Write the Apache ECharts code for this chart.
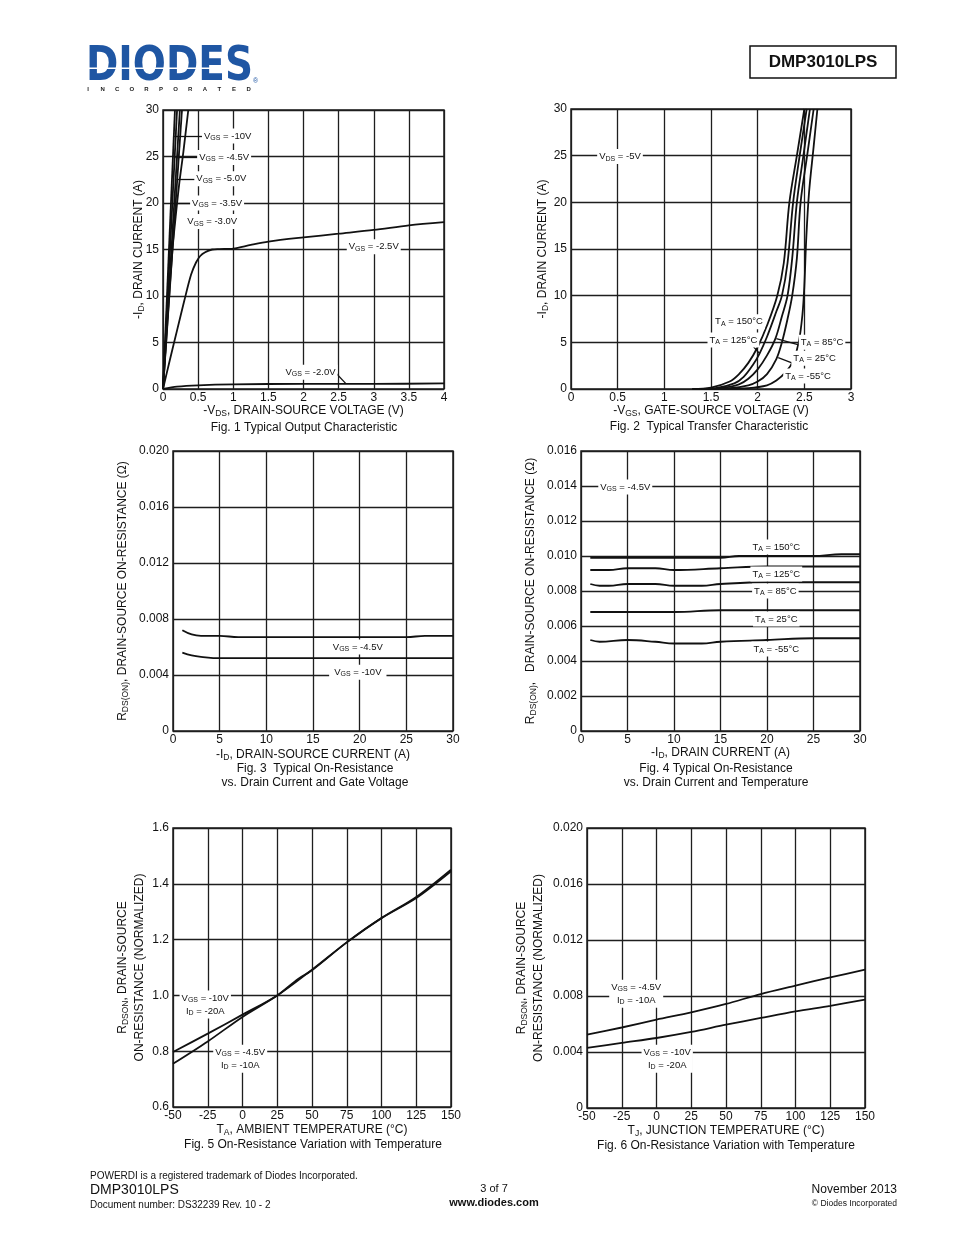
<!DOCTYPE html>
<html><head><meta charset="utf-8">
<script src="https://cdn.jsdelivr.net/npm/echarts@6/dist/echarts.min.js"></script>
<style>html,body{margin:0;padding:0;background:#fff}#c{width:954px;height:1235px}</style>
</head><body><div id="c"></div><script>
// ---------- DATA ----------
// Fig 1: Typical Output Characteristic  [-VDS (V), -ID (A)]
const f1_10V = [[0,0],[0.17,30]];
const f1_45V = [[0,0],[0.2,30]];
const f1_50V = [[0,0],[0.24,30]];
const f1_35V = [[0,0],[0.27,30]];
const f1_30V = [[0,0],[0.07,8],[0.135,15],[0.18,18.5],[0.23,22],[0.29,25.5],[0.36,30]];
const f1_25V = [[0,0],[0.1,3.2],[0.2,6.3],[0.3,9.4],[0.4,12.3],[0.47,13.6],[0.53,14.3],[0.6,14.7],[0.7,15.0],[0.8,15.05],[1.0,15.1],[1.25,15.5],[1.5,15.85],[2,16.3],[2.5,16.7],[3,17.1],[3.5,17.6],[4,17.95]];
const f1_20V = [[0,0],[0.2,0.25],[0.5,0.4],[1,0.5],[2,0.55],[3,0.55],[4,0.6]];
// Fig 2: Typical Transfer Characteristic  [-VGS (V), -ID (A)]
const f2_150 = [[1.3,0],[1.5,0.15],[1.7,0.8],[1.8,1.6],[1.9,2.8],[2.0,4.5],[2.1,6.8],[2.21,10],[2.28,13.5],[2.34,20],[2.42,25],[2.5,30]];
const f2_125 = [[1.3,0],[1.55,0.1],[1.75,0.6],[1.85,1.3],[1.95,2.6],[2.02,3.8],[2.1,5.6],[2.2,8.3],[2.26,10],[2.32,13.5],[2.38,20],[2.45,25],[2.525,30]];
const f2_85 = [[1.35,0],[1.6,0.1],[1.8,0.5],[1.9,1.1],[2.0,2.1],[2.1,3.6],[2.19,5.4],[2.26,7.8],[2.32,10],[2.37,14],[2.42,20],[2.49,25],[2.56,30]];
const f2_25 = [[1.4,0],[1.7,0.1],[1.9,0.4],[2.0,0.8],[2.1,1.6],[2.2,3.2],[2.26,5],[2.32,7.5],[2.37,10],[2.42,14],[2.46,20],[2.53,25],[2.6,30]];
const f2_m55 = [[1.6,0],[1.9,0.1],[2.1,0.4],[2.2,0.9],[2.3,1.8],[2.38,3],[2.44,5],[2.48,8],[2.5,11],[2.52,16],[2.55,21],[2.6,26],[2.64,30]];
// Fig 3: On-Resistance vs Drain Current and Gate Voltage [-ID (A), RDS(ON) (ohm)]
const f3_45V = [[1,0.0072],[2,0.0069],[3,0.0068],[5,0.0068],[7,0.0067],[10,0.0067],[15,0.0067],[20,0.0067],[25,0.0067],[27,0.0068],[30,0.0068]];
const f3_10V = [[1,0.0056],[2,0.0054],[3,0.0053],[5,0.0052],[7,0.0052],[10,0.0052],[20,0.0052],[30,0.0052]];
// Fig 4: On-Resistance vs Drain Current and Temperature
const f4_150 = [[1,0.0099],[5,0.0099],[10,0.0099],[15,0.0099],[17,0.0100],[20,0.0100],[25,0.0100],[28,0.0101],[30,0.0101]];
const f4_125 = [[1,0.0092],[3,0.0092],[5,0.0093],[8,0.0093],[10,0.0092],[15,0.0093],[20,0.0094],[25,0.0094],[30,0.0094]];
const f4_85 = [[1,0.0084],[2,0.0083],[3,0.0083],[5,0.0084],[8,0.0084],[10,0.0083],[13,0.0083],[15,0.0084],[20,0.0085],[25,0.0085],[30,0.0085]];
const f4_25 = [[1,0.0068],[10,0.0068],[15,0.0069],[20,0.0069],[30,0.0069]];
const f4_m55 = [[1,0.0052],[2,0.0051],[5,0.0052],[8,0.0051],[10,0.0050],[13,0.0050],[15,0.0051],[20,0.0052],[25,0.0053],[30,0.0053]];
// Fig 5: normalized RDSON vs ambient temperature
const f5_10V = [[-50,0.797],[-25,0.863],[0,0.931],[25,1.0],[50,1.092],[75,1.19],[100,1.277],[125,1.353],[150,1.451]];
const f5_45V = [[-50,0.755],[-25,0.835],[0,0.923],[25,1.0],[40,1.059],[50,1.09],[75,1.19],[100,1.277],[125,1.349],[150,1.445]];
// Fig 6: RDSON vs junction temperature
const f6_45V = [[-50,0.00524],[-25,0.00575],[0,0.00631],[25,0.00683],[50,0.00743],[75,0.00814],[100,0.00874],[125,0.00933],[150,0.00988]];
const f6_10V = [[-50,0.00429],[-25,0.00465],[0,0.0050],[25,0.00543],[50,0.00595],[75,0.00643],[100,0.0069],[125,0.0073],[150,0.00774]];

// ---------- STYLE ----------
const FF = '"Liberation Sans", Arial, Helvetica, sans-serif';
const INK = '#111';
const GRIDC = '#1e1e1e';
const subRich = (fs, pad) => ({ s: { fontSize: fs, fontFamily: FF, color: INK, padding: [pad, 0, 0, 0] } });

function grid(l, t, w, h) {
  return { left: l, top: t, width: w, height: h, show: true, borderColor: GRIDC, borderWidth: 1.5, containLabel: false };
}
function axis(gi, min, max, interval, name, gap, fmt, isY) {
  return {
    gridIndex: gi, type: 'value', min, max, interval,
    axisLine: { show: false }, axisTick: { show: false },
    splitLine: { show: true, lineStyle: { color: GRIDC, width: 1.3 } },
    axisLabel: { color: INK, fontSize: 12, fontFamily: FF, margin: isY ? 4 : 3, formatter: fmt, hideOverlap: false },
    name, nameLocation: 'middle', nameGap: gap, nameRotate: isY ? 90 : 0, nameMoveOverlap: false,
    nameTextStyle: { color: INK, fontSize: 12, fontFamily: FF, align: 'center', lineHeight: 17, rich: subRich(8.5, 6) }
  };
}
const fmt3 = v => v === 0 ? '0' : v.toFixed(3);
const fmt1 = v => v.toFixed(1);

function annLabel(text, pad) {
  return {
    show: true, position: 'inside', formatter: text, color: INK, fontSize: 9.5, fontFamily: FF,
    backgroundColor: '#fff', padding: pad || [1, 2], align: 'center', lineHeight: 13,
    rich: { s: { fontSize: 7, fontFamily: FF, color: INK, padding: [4, 0, 0, 0] } }
  };
}
function marks(list) {
  return {
    symbol: 'rect', symbolSize: 0, silent: true, animation: false,
    data: list.map(a => ({ coord: a.c, symbol: 'rect', symbolSize: 0, label: annLabel(a.t, a.p) }))
  };
}
function arrows(list) {
  return {
    symbol: ['none', 'arrow'], symbolSize: [0, 7], silent: true, animation: false,
    label: { show: false }, lineStyle: { color: INK, width: 1.3, type: 'solid' },
    emphasis: { disabled: true },
    data: list.map(a => [{ coord: a[0] }, { coord: a[1] }])
  };
}
function line(gi, data, opts) {
  return Object.assign({
    type: 'line', xAxisIndex: gi, yAxisIndex: gi, data, showSymbol: false, silent: true,
    lineStyle: { color: INK, width: 1.8 }, animation: false, z: 3
  }, opts || {});
}

// ---------- ANNOTATIONS ----------
const a1 = [
  { c: [0.92, 27.2], t: 'V{s|GS} = -10V' },
  { c: [0.87, 24.9], t: 'V{s|GS} = -4.5V' },
  { c: [0.83, 22.6], t: 'V{s|GS} = -5.0V' },
  { c: [0.77, 20.0], t: 'V{s|GS} = -3.5V' },
  { c: [0.70, 18.0], t: 'V{s|GS} = -3.0V' },
  { c: [3.0, 15.3], t: 'V{s|GS} = -2.5V' },
  { c: [2.1, 1.8], t: 'V{s|GS} = -2.0V' }
];
const r1 = [[[0.56, 27.2], [0.16, 27.2]], [[0.5, 24.9], [0.175, 24.9]], [[0.46, 22.6], [0.19, 22.6]], [[0.4, 20.0], [0.19, 20.0]], [[2.45, 1.8], [2.6, 0.6]]];
const a2 = [
  { c: [0.525, 24.9], t: 'V{s|DS} = -5V' },
  { c: [1.8, 7.2], t: 'T{s|A} = 150°C' },
  { c: [1.74, 5.25], t: 'T{s|A} = 125°C' },
  { c: [2.69, 5.0], t: 'T{s|A} = 85°C' },
  { c: [2.61, 3.3], t: 'T{s|A} = 25°C' },
  { c: [2.54, 1.4], t: 'T{s|A} = -55°C' }
];
const r2 = [[[1.94, 4.7], [2.02, 3.8]], [[2.45, 4.7], [2.2, 5.4]], [[2.38, 2.75], [2.22, 3.35]]];
const a3 = [
  { c: [19.8, 0.0060], t: 'V{s|GS} = -4.5V' },
  { c: [19.8, 0.0042], t: 'V{s|GS} = -10V', p: [1, 5] }
];
const a4 = [
  { c: [4.76, 0.01394], t: 'V{s|GS} = -4.5V' },
  { c: [21, 0.01051], t: 'T{s|A} = 150°C' },
  { c: [21, 0.00897], t: 'T{s|A} = 125°C' },
  { c: [20.9, 0.0080], t: 'T{s|A} = 85°C' },
  { c: [21, 0.0064], t: 'T{s|A} = 25°C' },
  { c: [21, 0.00469], t: 'T{s|A} = -55°C' }
];
const a5 = [
  { c: [-26.8, 0.967], t: 'V{s|GS} = -10V\nI{s|D} = -20A' },
  { c: [-1.65, 0.773], t: 'V{s|GS} = -4.5V\nI{s|D} = -10A' }
];
const a6 = [
  { c: [-14.6, 0.00816], t: 'V{s|GS} = -4.5V\nI{s|D} = -10A' },
  { c: [7.7, 0.00352], t: 'V{s|GS} = -10V\nI{s|D} = -20A' }
];

// ---------- GRAPHICS (logo, header, captions, footer) ----------
const g = [];
function txt(x, y, text, font, align, fill) {
  g.push({ type: 'text', x, y, silent: true, style: { text, font, fill: fill || INK, textAlign: align || 'left', align: align || 'left', textVerticalAlign: 'middle', verticalAlign: 'middle' } });
}
const logoFont = 'bold 48px "DejaVu Sans", sans-serif';
const mc = document.createElement('canvas').getContext('2d');
mc.font = logoFont;
const lw = mc.measureText('DIODES').width || 200;
g.push({ type: 'text', x: 86, y: 68, scaleX: 167 / lw, scaleY: 1, silent: true,
  style: { text: 'DIODES', font: logoFont, fill: '#1f56a3', textAlign: 'left', align: 'left', textVerticalAlign: 'middle', verticalAlign: 'middle' } });
g.push({ type: 'rect', shape: { x: 86, y: 67.5, width: 134, height: 1.6 }, style: { fill: '#fff' }, silent: true, z: 10 });
txt(253, 81, '®', '7px ' + FF, 'left', '#1f56a3');
'INCORPORATED'.split('').forEach((ch, i) => txt(88 + i * 14.6, 89.5, ch, 'bold 6px ' + FF, 'center', '#222'));
g.push({ type: 'rect', shape: { x: 750, y: 46, width: 146, height: 32 }, style: { fill: 'none', stroke: '#111', lineWidth: 1.5 }, silent: true });
txt(823, 62, 'DMP3010LPS', 'bold 17px ' + FF, 'center');
// captions
txt(304, 428, 'Fig. 1 Typical Output Characteristic', '12px ' + FF, 'center');
txt(709, 427, 'Fig. 2  Typical Transfer Characteristic', '12px ' + FF, 'center');
txt(315, 769, 'Fig. 3  Typical On-Resistance', '12px ' + FF, 'center');
txt(315, 783, 'vs. Drain Current and Gate Voltage', '12px ' + FF, 'center');
txt(716, 769, 'Fig. 4 Typical On-Resistance', '12px ' + FF, 'center');
txt(716, 783, 'vs. Drain Current and Temperature', '12px ' + FF, 'center');
txt(313, 1145, 'Fig. 5 On-Resistance Variation with Temperature', '12px ' + FF, 'center');
txt(726, 1146, 'Fig. 6 On-Resistance Variation with Temperature', '12px ' + FF, 'center');
// footer
txt(90, 1176, 'POWERDI is a registered trademark of Diodes Incorporated.', '10px ' + FF, 'left');
txt(90, 1190, 'DMP3010LPS', '14px ' + FF, 'left');
txt(90, 1205, 'Document number: DS32239 Rev. 10 - 2', '10px ' + FF, 'left');
txt(494, 1189, '3 of 7', '11px ' + FF, 'center');
txt(494, 1203, 'www.diodes.com', 'bold 11px ' + FF, 'center');
txt(897, 1190, 'November 2013', '12px ' + FF, 'right');
txt(897, 1204, '© Diodes Incorporated', '8.5px ' + FF, 'right');

// ---------- OPTION ----------
const option = {
  animation: false,
  backgroundColor: '#fff',
  grid: [grid(163, 110, 281, 279), grid(571, 109, 280, 280), grid(173, 451, 280, 280), grid(581, 451, 279, 280), grid(173, 828, 278, 279), grid(587, 828, 278, 280)],
  xAxis: [
    axis(0, 0, 4, 0.5, '-V{s|DS}, DRAIN-SOURCE VOLTAGE (V)', 13, null, false),
    axis(1, 0, 3, 0.5, '-V{s|GS}, GATE-SOURCE VOLTAGE (V)', 13, null, false),
    axis(2, 0, 30, 5, '-I{s|D}, DRAIN-SOURCE CURRENT (A)', 15, null, false),
    axis(3, 0, 30, 5, '-I{s|D}, DRAIN CURRENT (A)', 13, null, false),
    axis(4, -50, 150, 25, 'T{s|A}, AMBIENT TEMPERATURE (°C)', 14, null, false),
    axis(5, -50, 150, 25, 'T{s|J}, JUNCTION TEMPERATURE (°C)', 14, null, false)
  ],
  yAxis: [
    axis(0, 0, 30, 5, '-I{s|D}, DRAIN CURRENT (A)', 16, null, true),
    axis(1, 0, 30, 5, '-I{s|D}, DRAIN CURRENT (A)', 20, null, true),
    axis(2, 0, 0.02, 0.004, 'R{s|DS(ON)}, DRAIN-SOURCE ON-RESISTANCE (Ω)', 42, fmt3, true),
    axis(3, 0, 0.016, 0.002, 'R{s|DS(ON)},   DRAIN-SOURCE ON-RESISTANCE (Ω)', 42, fmt3, true),
    axis(4, 0.6, 1.6, 0.2, 'R{s|DSON}, DRAIN-SOURCE\nON-RESISTANCE (NORMALIZED)', 25, fmt1, true),
    axis(5, 0, 0.02, 0.004, 'R{s|DSON}, DRAIN-SOURCE\nON-RESISTANCE (NORMALIZED)', 40, fmt3, true)
  ],
  series: [
    line(0, f1_10V, { markPoint: marks(a1), markLine: arrows(r1) }),
    line(0, f1_45V), line(0, f1_50V), line(0, f1_35V),
    line(0, f1_30V, { smooth: 0.3 }),
    line(0, f1_25V, { smooth: 0.3 }),
    line(0, f1_20V, { smooth: 0.3 }),
    line(1, f2_150, { smooth: 0.35, markPoint: marks(a2), markLine: arrows(r2) }),
    line(1, f2_125, { smooth: 0.35 }),
    line(1, f2_85, { smooth: 0.35 }),
    line(1, f2_25, { smooth: 0.35 }),
    line(1, f2_m55, { smooth: 0.35 }),
    line(2, f3_45V, { smooth: 0.4, markPoint: marks(a3) }),
    line(2, f3_10V, { smooth: 0.4 }),
    line(3, f4_150, { smooth: 0.4, markPoint: marks(a4) }),
    line(3, f4_125, { smooth: 0.4 }),
    line(3, f4_85, { smooth: 0.4 }),
    line(3, f4_25, { smooth: 0.4 }),
    line(3, f4_m55, { smooth: 0.4 }),
    line(4, f5_10V, { smooth: 0.3, markPoint: marks(a5) }),
    line(4, f5_45V, { smooth: 0.3 }),
    line(5, f6_45V, { smooth: 0.3, markPoint: marks(a6) }),
    line(5, f6_10V, { smooth: 0.3 })
  ],
  graphic: g
};
const chart = echarts.init(document.getElementById('c'), null, { renderer: 'canvas', width: 954, height: 1235 });
chart.setOption(option);
</script></body></html>
